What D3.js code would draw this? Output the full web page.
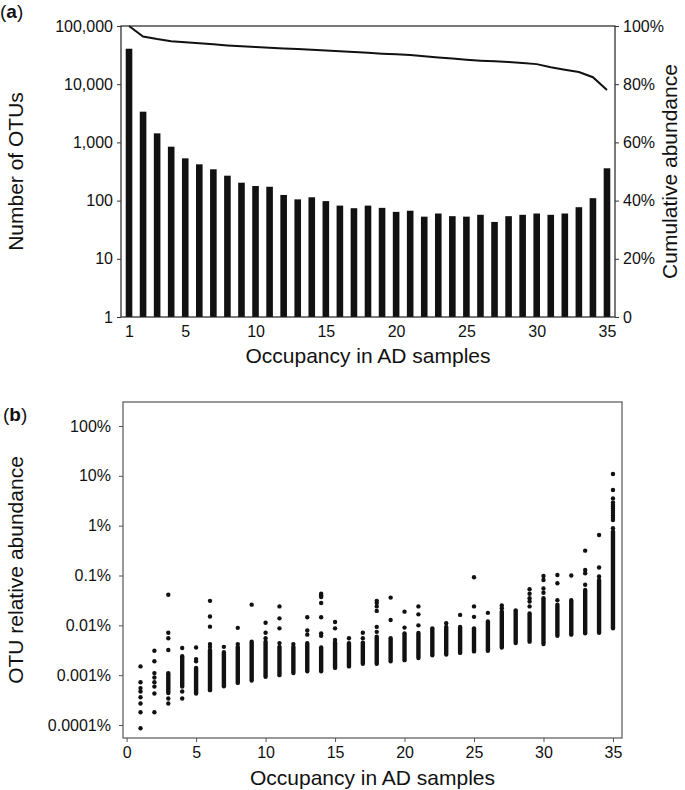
<!DOCTYPE html>
<html>
<head>
<meta charset="utf-8">
<script src="https://cdn.jsdelivr.net/npm/d3@7"></script>
<style>
body { margin: 0; background: #fff; }
text { font-family: "Liberation Sans", Arial, Helvetica, sans-serif; fill: #111; }
</style>
</head>
<body>
<svg id="chart" width="685" height="790"></svg>
<script>
// ---- panel (a) data ----
var occupancy = [1,2,3,4,5,6,7,8,9,10,11,12,13,14,15,16,17,18,19,20,21,22,23,24,25,26,27,28,29,30,31,32,33,34,35];
var otuCounts = [40700,3370,1430,844,532,420,345,268,203,178,173,125,105,114,98,82,74,82,75,64,
                 67,53,60,54,53,57,43,54,57,60,57,60,77,110,359];
// cumulative abundance (%) of OTUs with occupancy >= x
var cumAbundance = [100,96.4,95.5,94.8,94.4,94.1,93.7,93.3,93.0,92.8,92.5,92.3,92.1,91.8,91.6,91.3,91.1,90.8,
                    90.5,90.3,90.0,89.6,89.2,88.8,88.4,88.1,87.9,87.6,87.3,86.9,85.8,85.0,84.2,82.4,78.0];
var countTicks = [1,10,100,1000,10000,100000];
var cumTicks = [0,20,40,60,80,100];
var occTicksA = [1,5,10,15,20,25,30,35];

// ---- panel (b) data (relative abundance, %) ----
// dense part of each column [low, high]; null when only single dots are visible
var denseRange = [null,null,[0.00044,0.0011],[0.00059,0.0024],[0.00043,0.0014],[0.0005,0.0032],[0.0006,0.0029],
  [0.0007,0.0037],[0.00078,0.0047],[0.00093,0.0047],[0.001,0.0037],[0.0011,0.0037],[0.0012,0.0044],[0.0012,0.0036],
  [0.0014,0.0045],[0.0015,0.0044],[0.0017,0.0045],[0.0017,0.0059],[0.0019,0.0055],[0.002,0.0069],[0.0022,0.007],
  [0.0025,0.0087],[0.0026,0.0093],[0.0028,0.0093],[0.003,0.0087],[0.0031,0.012],[0.0036,0.019],[0.0044,0.02],
  [0.0047,0.0174],[0.0042,0.035],[0.0062,0.026],[0.0065,0.032],[0.0069,0.051],[0.0071,0.081],[0.0087,0.76]];
// separate dots per column
var singleDots = [
  [0.0015,0.00072,0.00055,0.00047,0.00036,0.00027,0.00018,0.000086],
  [0.0031,0.0019,0.0011,0.0009,0.00072,0.00059,0.00043,0.00018],
  [0.041,0.0071,0.0055,0.0032,0.00034,0.00027],
  [0.0035,0.00047,0.00034],
  [0.0036,0.0021,0.0019],
  [0.031,0.015,0.0094,0.0042,0.0037],
  [0.0037],
  [0.0089,0.0042],
  [0.026],
  [0.0113,0.0071,0.0055],
  [0.024,0.0138,0.0087,0.0044],
  [0.0042],
  [0.0145,0.0079,0.0065],
  [0.043,0.04,0.037,0.028,0.0145,0.0069,0.0062],
  [0.0117,0.0087,0.0051],
  [0.0055],
  [0.0071,0.0055],
  [0.031,0.028,0.024,0.0195,0.0093,0.0074],
  [0.036,0.0128],
  [0.0188,0.009],
  [0.024,0.0166,0.01],
  [],
  [0.011],
  [0.0162],
  [0.092,0.024,0.0148],
  [0.0178],
  [0.025,0.022],
  [],
  [0.053,0.043,0.035,0.030,0.024],
  [0.098,0.081,0.055,0.045],
  [0.102,0.07,0.032],
  [0.1],
  [0.315,0.129,0.111,0.065],
  [0.65,0.145,0.096],
  [10.9,5.2,3.5,2.9,2.6,2.4,2.2,2.0,1.8,1.6,1.45,1.3,0.89]
];
var abundTicks = [0.0001,0.001,0.01,0.1,1,10,100];
var occTicksB = [0,5,10,15,20,25,30,35];

var svg = d3.select("#chart");

// ================= panel (a) =================
var a = { left: 121, right: 615, top: 26, bottom: 317 };
var xA = d3.scaleLinear().domain([0.43, 35.57]).range([a.left, a.right]);
var yA = d3.scaleLog().domain([1, 100000]).range([a.bottom, a.top]);
var yR = d3.scaleLinear().domain([0, 100]).range([a.bottom, a.top]);

var gA = svg.append("g");

gA.selectAll(".bar")
    .data(occupancy)
    .enter()
    .append("rect")
    .attr("class", "bar")
    .attr("x", function(d) { return xA(d) - 3.3; })
    .attr("width", 6.6)
    .attr("y", function(d, i) { return yA(otuCounts[i]); })
    .attr("height", function(d, i) { return a.bottom - yA(otuCounts[i]); })
    .attr("fill", "#111");

var line = d3.line()
    .x(function(d) { return xA(d); })
    .y(function(d, i) { return yR(cumAbundance[i]); });

gA.append("path")
    .datum(occupancy)
    .attr("d", line)
    .attr("fill", "none")
    .attr("stroke", "#111")
    .attr("stroke-width", 2);

gA.append("rect")
    .attr("x", a.left).attr("y", a.top)
    .attr("width", a.right - a.left).attr("height", a.bottom - a.top)
    .attr("fill", "none").attr("stroke", "#222").attr("stroke-width", 1.2);

var axL = gA.append("g")
    .attr("transform", "translate(" + a.left + ",0)")
    .call(d3.axisLeft(yA).tickValues(countTicks).tickFormat(d3.format(",")).tickSize(4).tickPadding(4));
var axR = gA.append("g")
    .attr("transform", "translate(" + a.right + ",0)")
    .call(d3.axisRight(yR).tickValues(cumTicks)
        .tickFormat(function(d) { return d === 0 ? "0" : d + "%"; }).tickSize(4).tickPadding(4));
var axB = gA.append("g")
    .attr("transform", "translate(0," + a.bottom + ")")
    .call(d3.axisBottom(xA).tickValues(occTicksA).tickSize(0).tickPadding(9));

[axL, axR, axB].forEach(function(ax) {
    ax.select(".domain").remove();
    ax.selectAll("text").style("font-size", "16px").attr("fill", "#111");
    ax.selectAll("line").attr("stroke", "#333");
});

gA.append("text")
    .attr("x", (a.left + a.right) / 2).attr("y", 363)
    .attr("text-anchor", "middle").style("font-size", "21px")
    .text("Occupancy in AD samples");
gA.append("text")
    .attr("transform", "translate(23," + (a.top + a.bottom) / 2 + ") rotate(-90)")
    .attr("text-anchor", "middle").style("font-size", "21px")
    .text("Number of OTUs");
gA.append("text")
    .attr("transform", "translate(677," + (a.top + a.bottom) / 2 + ") rotate(-90)")
    .attr("text-anchor", "middle").style("font-size", "21px")
    .text("Cumulative abundance");
var labA = gA.append("text").attr("x", 0).attr("y", 18).style("font-size", "19px");
labA.append("tspan").text("(");
labA.append("tspan").style("font-weight", "bold").text("a");
labA.append("tspan").text(")");

// ================= panel (b) =================
var b = { left: 123, right: 622, top: 402, bottom: 738 };
var xB = d3.scaleLinear().domain([-0.26, 35.65]).range([b.left, b.right]);
var yB = d3.scaleLog().domain([0.0001, 100]).range([725, 426]);

var gB = svg.append("g");

gB.append("rect")
    .attr("x", b.left).attr("y", b.top)
    .attr("width", b.right - b.left).attr("height", b.bottom - b.top)
    .attr("fill", "none").attr("stroke", "#555").attr("stroke-width", 1.2);

// dense parts drawn as thick round-capped strokes
gB.selectAll(".dense")
    .data(occupancy.filter(function(d, i) { return denseRange[i]; }))
    .enter()
    .append("line")
    .attr("class", "dense")
    .attr("x1", function(d) { return xB(d); })
    .attr("x2", function(d) { return xB(d); })
    .attr("y1", function(d) { return yB(denseRange[d - 1][0]); })
    .attr("y2", function(d) { return yB(denseRange[d - 1][1]); })
    .attr("stroke", "#111")
    .attr("stroke-width", 4.4)
    .attr("stroke-linecap", "round");

var dots = [];
occupancy.forEach(function(o, i) {
    singleDots[i].forEach(function(v) { dots.push({ occ: o, value: v }); });
});

gB.selectAll(".dot")
    .data(dots)
    .enter()
    .append("circle")
    .attr("class", "dot")
    .attr("cx", function(d) { return xB(d.occ); })
    .attr("cy", function(d) { return yB(d.value); })
    .attr("r", 2.2)
    .attr("fill", "#111");

var bxL = gB.append("g")
    .attr("transform", "translate(" + b.left + ",0)")
    .call(d3.axisLeft(yB).tickValues(abundTicks)
        .tickFormat(function(d) { return d + "%"; }).tickSize(4).tickPadding(8));
var bxB = gB.append("g")
    .attr("transform", "translate(0," + b.bottom + ")")
    .call(d3.axisBottom(xB).tickValues(occTicksB).tickSize(4).tickPadding(5));

[bxL, bxB].forEach(function(ax) {
    ax.select(".domain").remove();
    ax.selectAll("text").style("font-size", "16px").attr("fill", "#111");
    ax.selectAll("line").attr("stroke", "#555");
});

gB.append("text")
    .attr("x", (b.left + b.right) / 2).attr("y", 785)
    .attr("text-anchor", "middle").style("font-size", "21px")
    .text("Occupancy in AD samples");
gB.append("text")
    .attr("transform", "translate(23," + (b.top + b.bottom) / 2 + ") rotate(-90)")
    .attr("text-anchor", "middle").style("font-size", "21px")
    .text("OTU relative abundance");
var labB = gB.append("text").attr("x", 3).attr("y", 421).style("font-size", "19px");
labB.append("tspan").text("(");
labB.append("tspan").style("font-weight", "bold").text("b");
labB.append("tspan").text(")");
</script>
</body>
</html>
